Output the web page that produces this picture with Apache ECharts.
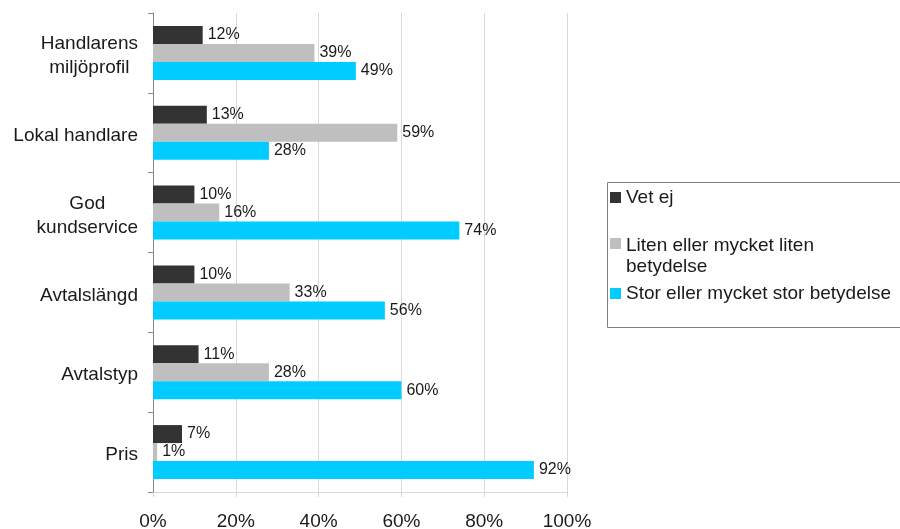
<html>
<head>
<meta charset="utf-8" />
<title>Betydelse vid val av handlare</title>
<script src="https://cdn.jsdelivr.net/npm/echarts@6/dist/echarts.min.js"></script>
<style type="text/css">
html, body { margin: 0; padding: 0; background: #fff; }
#echarts { width: 900px; height: 529px; }
</style>
</head>
<body>
<div id="echarts"></div>
<script type="text/javascript">
var myChart = echarts.init(document.getElementById("echarts"));

// kategorier uppifrån och ned
var categories = ['Handlarens\nmiljöprofil', 'Lokal handlare', 'God\nkundservice', 'Avtalslängd', 'Avtalstyp', 'Pris'];
var seriesNames = ['Vet ej', 'Liten eller mycket liten betydelse', 'Stor eller mycket stor betydelse'];
var vetEj = [12, 13, 10, 10, 11, 7];
var liten = [39, 59, 16, 33, 28, 1];
var stor = [49, 28, 74, 56, 60, 92];
var xTicks = [0, 20, 40, 60, 80, 100];
var colors = ['#333333', '#bfbfbf', '#00ccff'];

var font = "'Liberation Sans', Arial, sans-serif";
var textColor = '#1a1a1a';

function makeSeries(name, values, color) {
    return {
        name: name,
        type: 'bar',
        barWidth: 18,
        barGap: '0%',
        itemStyle: { color: color },
        label: {
            show: true,
            position: 'right',
            distance: 5,
            formatter: '{c}%',
            fontSize: 16,
            fontFamily: font,
            color: textColor
        },
        data: values
    };
}

function legendFor(name, top, extra) {
    var lg = {
        data: [name],
        orient: 'vertical',
        left: 610,
        top: top,
        padding: 0,
        itemWidth: 11,
        itemHeight: 11,
        icon: 'rect',
        selectedMode: false,
        textStyle: { fontSize: 19, fontFamily: font, color: textColor, lineHeight: 23 }
    };
    if (extra) {
        for (var k in extra) lg[k] = extra[k];
    }
    return lg;
}

var option = {
    animation: false,
    textStyle: { fontFamily: font },
    grid: { left: 153, right: 333, top: 13, bottom: 37, containLabel: false, outerBoundsMode: 'none' },
    legend: [
        legendFor(seriesNames[0], 186),
        legendFor(seriesNames[1], 236, {
            // första raden i höjd med ikonen
            formatter: function () { return '{a|Liten eller mycket liten}\n{b|betydelse}'; },
            textStyle: {
                fontSize: 19, fontFamily: font, color: textColor,
                rich: {
                    a: { fontSize: 19, fontFamily: font, color: textColor, lineHeight: 46, verticalAlign: 'bottom' },
                    b: { fontSize: 19, fontFamily: font, color: textColor, lineHeight: 23 }
                }
            }
        }),
        legendFor(seriesNames[2], 282)
    ],
    graphic: [{
        type: 'rect',
        left: 605,
        top: 180,
        shape: { x: 0.5, y: 0.5, width: 310, height: 145 },
        style: { fill: 'none', stroke: '#808080', lineWidth: 1 },
        silent: true
    }],
    xAxis: {
        type: 'value',
        min: xTicks[0],
        max: xTicks[xTicks.length - 1],
        interval: xTicks[1] - xTicks[0],
        axisLine: { show: true, lineStyle: { color: '#d9d9d9' } },
        axisTick: { show: true, length: 5, lineStyle: { color: '#d9d9d9' } },
        splitLine: { show: true, lineStyle: { color: '#d9d9d9' } },
        axisLabel: {
            formatter: '{value}%',
            margin: 20,
            fontSize: 19,
            fontFamily: font,
            color: textColor
        }
    },
    yAxis: {
        type: 'category',
        inverse: true,
        data: categories,
        axisLine: { show: true, lineStyle: { color: '#868686' } },
        axisTick: { show: true, length: 5, lineStyle: { color: '#868686' } },
        axisLabel: {
            margin: 15,
            fontSize: 19,
            fontFamily: font,
            color: textColor,
            lineHeight: 24,
            padding: [6, 0, 0, 0],
            formatter: function (val) {
                if (val.indexOf('\n') < 0) return val;
                return val.split('\n').map(function (s) { return '{c|' + s + '}'; }).join('\n');
            },
            rich: {
                c: { align: 'center', fontSize: 19, fontFamily: font, color: textColor, lineHeight: 24 }
            }
        }
    },
    series: [
        makeSeries(seriesNames[0], vetEj, colors[0]),
        makeSeries(seriesNames[1], liten, colors[1]),
        makeSeries(seriesNames[2], stor, colors[2])
    ]
};

myChart.setOption(option);
</script>
</body>
</html>
